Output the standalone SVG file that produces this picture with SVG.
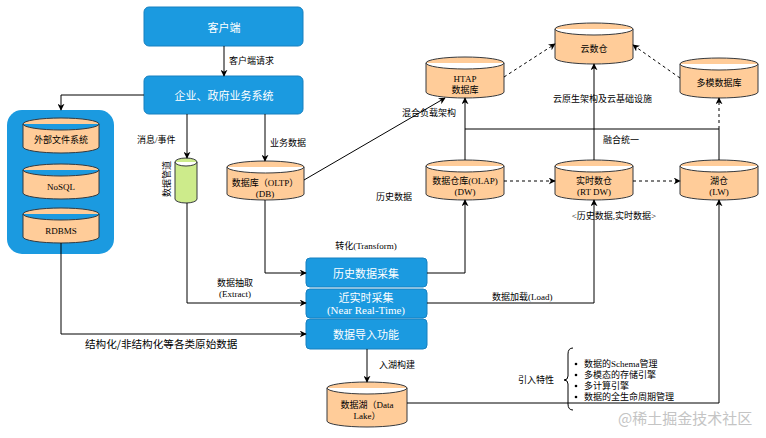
<svg xmlns="http://www.w3.org/2000/svg" width="766" height="438" viewBox="0 0 766 438">
<defs>
<marker id="arr" viewBox="0 0 10 10" refX="9" refY="5" markerWidth="7" markerHeight="7" orient="auto" markerUnits="userSpaceOnUse">
<path d="M0,0 L10,5 L0,10 L3,5 z" fill="#000"/>
</marker>
</defs>
<style>
text{font-family:"Liberation Serif","Noto Sans CJK SC",serif;font-size:9px;fill:#000;dominant-baseline:central}
.box{fill:#1b9ae0;stroke:#1780c0;stroke-width:1}
.bt{fill:#fff;font-family:"Noto Sans CJK SC",sans-serif;font-size:11px;text-anchor:middle}
.cyl{fill:#ffcc99;stroke:#36393d;stroke-width:1}
.grn{fill:#cdeb8b;stroke:#36393d;stroke-width:1}
.ct{text-anchor:middle}
.lbl{font-family:"Liberation Serif","Noto Sans CJK SC",sans-serif}
.c{fill:none;stroke:#000;stroke-width:1}
.a{marker-end:url(#arr)}
.d{stroke-dasharray:3 3}
</style>
<rect x="7" y="110" width="107" height="144" rx="15" fill="#1b9ae0"/>
<g id="client"><rect class="box" x="144" y="7" width="159" height="39" rx="5"/><text class="bt" x="224" y="27">客户端</text></g>
<g id="enterprise"><rect class="box" x="144" y="76" width="159" height="38" rx="5"/><text class="bt" x="224" y="95">企业、政府业务系统</text></g>
<g id="extfs"><path class="cyl" d="M23,124 a38,6 0 0 1 76,0 v23 a38,6 0 0 1 -76,0 z M23,124 a38,6 0 0 0 76,0"/><text class="ct" x="61" y="140">外部文件系统</text></g>
<g id="nosql"><path class="cyl" d="M23,170 a38,6 0 0 1 76,0 v23 a38,6 0 0 1 -76,0 z M23,170 a38,6 0 0 0 76,0"/><text class="ct" x="61" y="187">NoSQL</text></g>
<g id="rdbms"><path class="cyl" d="M23,214 a38,6 0 0 1 76,0 v23 a38,6 0 0 1 -76,0 z M23,214 a38,6 0 0 0 76,0"/><text class="ct" x="61" y="231">RDBMS</text></g>
<g id="pipe"><path class="grn" d="M175,162 a11,4 0 0 1 22,0 v37 a11,4 0 0 1 -22,0 z M175,162 a11,4 0 0 0 22,0"/><text class="ct" x="0" y="0" transform="translate(167,179) rotate(-90)">数据管道</text></g>
<g id="oltp"><path class="cyl" d="M227,167 a38.5,6 0 0 1 77,0 v27 a38.5,6 0 0 1 -77,0 z M227,167 a38.5,6 0 0 0 77,0"/><text class="ct" x="265" y="183">数据库（OLTP）</text><text class="ct" x="265" y="194">(DB)</text></g>
<g id="htap"><path class="cyl" d="M426,63 a39,6 0 0 1 78,0 v29 a39,6 0 0 1 -78,0 z M426,63 a39,6 0 0 0 78,0"/><text class="ct" x="465" y="79">HTAP</text><text class="ct" x="465" y="90">数据库</text></g>
<g id="cloud"><path class="cyl" d="M555,29 a39,6 0 0 1 78,0 v29 a39,6 0 0 1 -78,0 z M555,29 a39,6 0 0 0 78,0"/><text class="ct" x="594" y="49">云数仓</text></g>
<g id="multi"><path class="cyl" d="M680,64 a39,6 0 0 1 78,0 v28 a39,6 0 0 1 -78,0 z M680,64 a39,6 0 0 0 78,0"/><text class="ct" x="719" y="83">多模数据库</text></g>
<g id="dw"><path class="cyl" d="M426,166 a39,6 0 0 1 78,0 v28 a39,6 0 0 1 -78,0 z M426,166 a39,6 0 0 0 78,0"/><text class="ct" x="465" y="181">数据仓库(OLAP)</text><text class="ct" x="465" y="192">(DW)</text></g>
<g id="rtdw"><path class="cyl" d="M555,166 a39,6 0 0 1 78,0 v28 a39,6 0 0 1 -78,0 z M555,166 a39,6 0 0 0 78,0"/><text class="ct" x="594" y="181">实时数仓</text><text class="ct" x="594" y="192">(RT DW)</text></g>
<g id="lw"><path class="cyl" d="M680,166 a39,6 0 0 1 78,0 v28 a39,6 0 0 1 -78,0 z M680,166 a39,6 0 0 0 78,0"/><text class="ct" x="719" y="181">湖仓</text><text class="ct" x="719" y="192">(LW)</text></g>
<g id="hist"><rect class="box" x="306" y="258" width="121" height="29" rx="4"/><text class="bt" x="366" y="273">历史数据采集</text></g>
<g id="nrt"><rect class="box" x="306" y="289" width="121" height="29" rx="4"/><text class="bt" x="366" y="297">近实时采集</text><text class="bt" x="366" y="310" style="font-family:'Liberation Serif',serif">(Near Real-Time)</text></g>
<g id="import"><rect class="box" x="306" y="319" width="121" height="30" rx="4"/><text class="bt" x="366" y="334">数据导入功能</text></g>
<g id="lake"><path class="cyl" d="M327,388 a40,6 0 0 1 80,0 v33 a40,6 0 0 1 -80,0 z M327,388 a40,6 0 0 0 80,0"/><text class="ct" x="367" y="405">数据湖（Data</text><text class="ct" x="367" y="416">Lake）</text></g>
<g id="connectors">
<path class="c a" d="M224,46 V76"/>
<path class="c a" d="M144,95 H61 V110"/>
<path class="c a" d="M187,114 V158"/>
<path class="c a" d="M265,114 V161"/>
<path class="c a" d="M304,180 L445,98"/>
<path class="c a" d="M265,200 V273 H306"/>
<path class="c a" d="M187,203 V303 H306"/>
<path class="c a" d="M61,243 V334 H306"/>
<path class="c a" d="M427,273 H465 V200"/>
<path class="c a" d="M427,303 H594 V200"/>
<path class="c a" d="M367,349 V382"/>
<path class="c a" d="M407,403 H719 V200"/>
<path class="c a" d="M465,160 V98"/>
<path class="c a" d="M594,160 V64"/>
<path class="c" d="M465,129 H719 V160"/>
<path class="c a d" d="M719,129 V98"/>
<path class="c a d" d="M504,181 H555"/>
<path class="c a d" d="M633,181 H680"/>
<path class="c a d" d="M504,77 L555,44"/>
<path class="c a d" d="M680,78 L633,45"/>
<path class="c" d="M573,348 Q568,348 568,354 V376 Q568,380 564,380 Q568,380 568,384 V404 Q568,410 573,410"/>
</g>
<g id="labels" class="lbl">
<text x="229" y="61">客户端请求</text>
<text x="137" y="140">消息/事件</text>
<text x="270" y="143">业务数据</text>
<text x="402" y="113">混合负载架构</text>
<text x="376" y="197">历史数据</text>
<text class="ct" x="366" y="246">转化(Transform)</text>
<text class="ct" x="235" y="283">数据抽取</text>
<text class="ct" x="235" y="294">(Extract)</text>
<text x="85" y="343" style="font-size:10.6px;font-family:'Noto Sans CJK SC',sans-serif">结构化/非结构化等各类原始数据</text>
<text x="492" y="297">数据加载(Load)</text>
<text x="553" y="99">云原生架构及云基础设施</text>
<text x="603" y="140">融合统一</text>
<text class="ct" x="614" y="216">&lt;历史数据,实时数据&gt;</text>
<text x="379" y="365">入湖构建</text>
<text x="518" y="380">引入特性</text>
<circle cx="576" cy="364" r="1.3"/><text x="584" y="364">数据的Schema管理</text>
<circle cx="576" cy="375" r="1.3"/><text x="584" y="375">多模态的存储引擎</text>
<circle cx="576" cy="386" r="1.3"/><text x="584" y="386">多计算引擎</text>
<circle cx="576" cy="397" r="1.3"/><text x="584" y="397">数据的全生命周期管理</text>
<text x="618" y="417" style="font-size:15px;fill:#c4c4c4;font-family:'Noto Sans CJK SC',sans-serif">@稀土掘金技术社区</text>
</g>
</svg>
